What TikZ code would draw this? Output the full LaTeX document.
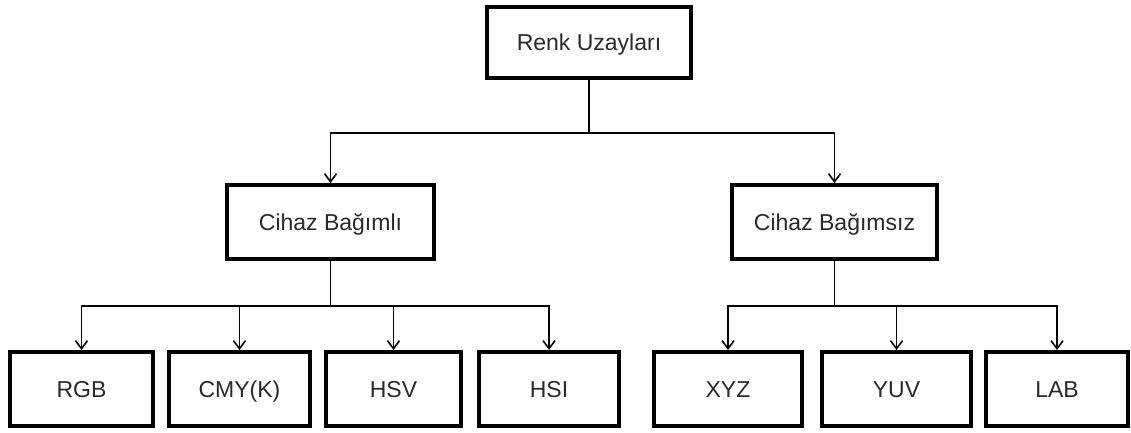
\documentclass[tikz,border=0pt]{standalone}
\usepackage{fontspec}
\setmainfont{Liberation Sans}
\usetikzlibrary{arrows.meta}
\definecolor{txt}{HTML}{2A2A2A}
\tikzset{
  box/.style={draw=black, line width=4pt, fill=white, inner sep=0pt,
    text=txt, font=\fontsize{23}{27}\selectfont,
    text height=16.5pt, text depth=0pt},
  conn/.style={draw=black, line width=1.6pt},
  arr/.style={conn, -{Straight Barb[length=8pt,width=12pt,line width=1.6pt]}}
}
\begin{document}
\begin{tikzpicture}[x=1pt,y=-1pt]
\useasboundingbox (0,0) rectangle (1131,432);
\fill[white] (0,0) rectangle (1131,432);

% top level
\node[box, minimum width=204pt, minimum height=71pt] (root) at (589,42.5) {Renk Uzayları};

% second level
\node[box, minimum width=207pt, minimum height=74pt] (dep) at (330.5,222) {Cihaz Bağımlı};
\node[box, minimum width=205pt, minimum height=74pt] (indep) at (834.5,222) {Cihaz Bağımsız};

% leaves
\node[box, minimum width=143pt, minimum height=74pt] (rgb) at (81.5,389) {RGB};
\node[box, minimum width=141pt, minimum height=74pt] (cmy) at (239.5,389) {CMY(K)};
\node[box, minimum width=135pt, minimum height=74pt] (hsv) at (393.5,389) {HSV};
\node[box, minimum width=140pt, minimum height=74pt] (hsi) at (549,389) {HSI};
\node[box, minimum width=148pt, minimum height=74pt] (xyz) at (728,389) {XYZ};
\node[box, minimum width=149pt, minimum height=74pt] (yuv) at (896.5,389) {YUV};
\node[box, minimum width=142pt, minimum height=74pt] (lab) at (1057,389) {LAB};

% bus levels
\coordinate (busA) at (590,133);
\coordinate (busB) at (331,306);
\coordinate (busC) at (836,306);

% connectors
\draw[arr] (root.south) -- (root.south |- busA) -| (dep.north);
\draw[arr] (root.south) -- (root.south |- busA) -| (indep.north);

\foreach \leaf in {rgb,cmy,hsv,hsi}
  \draw[arr] (dep.south) -- (dep.south |- busB) -| (\leaf.north);
\foreach \leaf in {xyz,yuv,lab}
  \draw[arr] (indep.south) -- (indep.south |- busC) -| (\leaf.north);
\end{tikzpicture}
\end{document}
